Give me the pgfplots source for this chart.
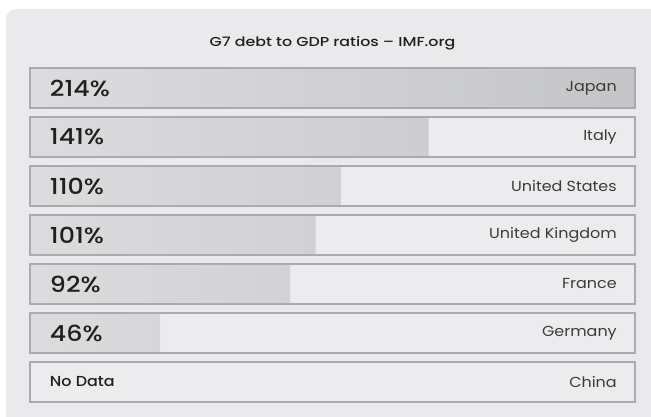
\documentclass[border=0pt]{standalone}
\usepackage{pgfplots}
\pgfplotsset{compat=1.18}
\usepackage{fontspec}
\setmainfont{Poppins}
\newfontfamily\medfont{Poppins}[UprightFont=* Medium]
\definecolor{cardbg}{HTML}{EAEAEC}
\definecolor{rowbg}{HTML}{ECECEE}
\definecolor{rowline}{HTML}{ABABAD}
\definecolor{barL}{HTML}{DCDCDE}
\definecolor{barR}{HTML}{C4C5C7}
\definecolor{txt}{HTML}{231F20}
\newcommand{\val}[1]{\scalebox{1.15}[1]{\medfont\fontsize{22}{24}\selectfont #1}}
\newcommand{\cname}[1]{\scalebox{1.1}[1]{\fontsize{14.5}{16}\selectfont #1}}
\begin{document}
\begin{tikzpicture}[x=1pt,y=1pt]
\path[use as bounding box] (0,0) rectangle (651,416);
\fill[white] (0,0) rectangle (651,416);
\fill[cardbg,rounded corners=10pt] (6,-20) rectangle (680,407);
\node[text=txt] at (332.5,373) {\scalebox{1.22}[1]{\medfont\fontsize{13}{15}\selectfont G7 debt to GDP ratios – IMF.org}};
\begin{axis}[
  at={(30pt,14pt)}, anchor=south west,
  scale only axis, width=605pt, height=334pt,
  xmin=0, xmax=214, ymin=-0.408, ymax=6.408, y dir=reverse,
  axis lines=none, xbar, bar width=40pt, bar shift=0pt,
  clip=false,
]
\addplot[draw=rowline, fill=rowbg, line width=1.1pt] coordinates {(214,0) (214,1) (214,2) (214,3) (214,4) (214,5) (214,6)};
\addplot[draw=none, left color=barL, right color=barR] coordinates {(214,0) (141,1) (110,2) (101,3) (92,4) (46,5)};
\addplot[draw=rowline, fill=none, line width=1.1pt] coordinates {(214,0) (214,1) (214,2) (214,3) (214,4) (214,5) (214,6)};
\node[anchor=west, text=txt, inner sep=0pt] at (axis cs:7,0) {\val{214\%}};
\node[anchor=west, text=txt, inner sep=0pt] at (axis cs:7,1) {\val{141\%}};
\node[anchor=west, text=txt, inner sep=0pt] at (axis cs:7,2) {\val{110\%}};
\node[anchor=west, text=txt, inner sep=0pt] at (axis cs:7,3) {\val{101\%}};
\node[anchor=west, text=txt, inner sep=0pt] at (axis cs:7,4) {\val{92\%}};
\node[anchor=west, text=txt, inner sep=0pt] at (axis cs:7,5) {\val{46\%}};
\node[anchor=west, text=txt, inner sep=0pt] at (axis cs:7,6) {\scalebox{1.1}[1]{\medfont\fontsize{14.5}{16}\selectfont No Data}};
\node[anchor=east, text=txt!88, inner sep=0pt] at (axis cs:207.6,0) {\cname{Japan}};
\node[anchor=east, text=txt!88, inner sep=0pt] at (axis cs:207.6,1) {\cname{Italy}};
\node[anchor=east, text=txt!88, inner sep=0pt] at (axis cs:207.6,2) {\cname{United States}};
\node[anchor=east, text=txt!88, inner sep=0pt] at (axis cs:207.6,3) {\cname{United Kingdom}};
\node[anchor=east, text=txt!88, inner sep=0pt] at (axis cs:207.6,4) {\cname{France}};
\node[anchor=east, text=txt!88, inner sep=0pt] at (axis cs:207.6,5) {\cname{Germany}};
\node[anchor=east, text=txt!88, inner sep=0pt] at (axis cs:207.6,6) {\cname{China}};
\end{axis}
\end{tikzpicture}
\end{document}
